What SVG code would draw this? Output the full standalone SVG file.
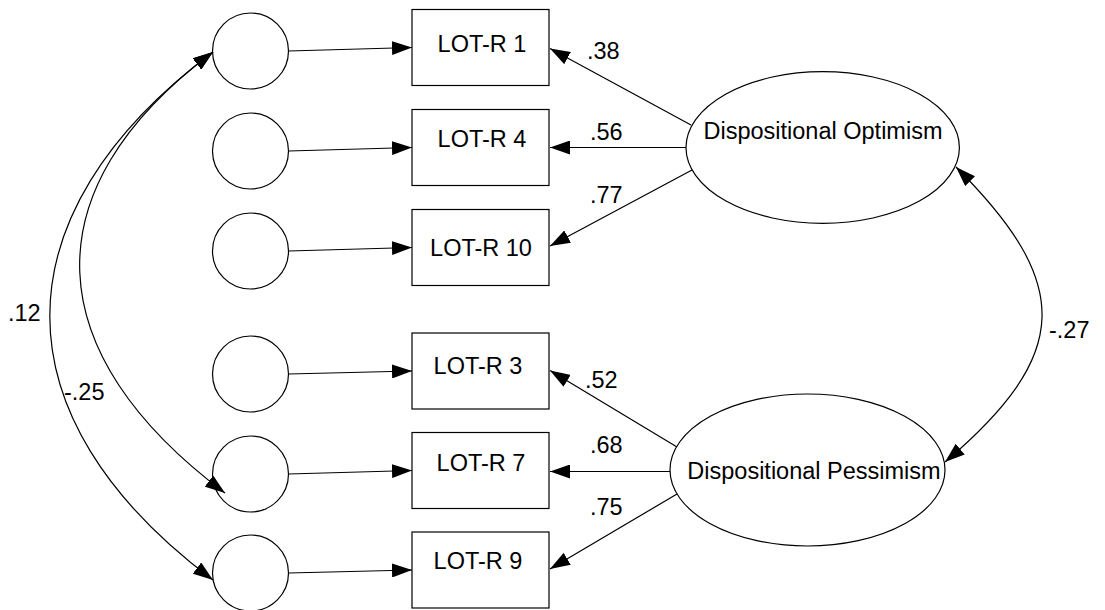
<svg xmlns="http://www.w3.org/2000/svg" width="1105" height="610" viewBox="0 0 1105 610">
  <style>
    .shape { fill: #ffffff; stroke: #000000; stroke-width: 1.2; }
    .edge { fill: none; stroke: #000000; stroke-width: 1.2; marker-end: url(#head); }
    .both { marker-start: url(#head); }
    .lbl { font-family: "Liberation Sans", Arial, sans-serif; font-size: 23.5px; fill: #000000; }
    .mid { text-anchor: middle; }
  </style>
  <defs>
    <marker id="head" viewBox="0 0 20 14" refX="20" refY="7" markerWidth="20" markerHeight="14" markerUnits="userSpaceOnUse" orient="auto-start-reverse">
      <path d="M0,0 L20,7 L0,14 z" fill="#000000"/>
    </marker>
  </defs>

  <!-- error terms -->
  <g id="e1"><circle class="shape" cx="250.5" cy="51" r="38"/></g>
  <g id="e4"><circle class="shape" cx="250.5" cy="151" r="38"/></g>
  <g id="e10"><circle class="shape" cx="250.5" cy="251" r="38"/></g>
  <g id="e3"><circle class="shape" cx="250.5" cy="374" r="38"/></g>
  <g id="e7"><circle class="shape" cx="250.5" cy="474" r="38"/></g>
  <g id="e9"><circle class="shape" cx="250.5" cy="573" r="38"/></g>

  <!-- observed items -->
  <g id="lotr1"><rect class="shape" x="412" y="9.5" width="137" height="76"/><text class="lbl mid" x="482" y="52">LOT-R 1</text></g>
  <g id="lotr4"><rect class="shape" x="412" y="109.5" width="137" height="76"/><text class="lbl mid" x="482" y="147">LOT-R 4</text></g>
  <g id="lotr10"><rect class="shape" x="412" y="209.5" width="137" height="76"/><text class="lbl mid" x="481" y="256">LOT-R 10</text></g>
  <g id="lotr3"><rect class="shape" x="412" y="333" width="137" height="76"/><text class="lbl mid" x="478" y="373.5">LOT-R 3</text></g>
  <g id="lotr7"><rect class="shape" x="412" y="432.5" width="137" height="76"/><text class="lbl mid" x="481" y="471">LOT-R 7</text></g>
  <g id="lotr9"><rect class="shape" x="412" y="532" width="137" height="76"/><text class="lbl mid" x="478" y="568.5">LOT-R 9</text></g>

  <!-- latent factors -->
  <g id="optimism"><ellipse class="shape" cx="822.7" cy="147.5" rx="136.7" ry="75.8"/><text class="lbl mid" x="823" y="139">Dispositional Optimism</text></g>
  <g id="pessimism"><ellipse class="shape" cx="807.5" cy="470" rx="137.5" ry="76"/><text class="lbl mid" x="814" y="479">Dispositional Pessimism</text></g>

  <!-- paths -->
  <g id="connectors">
    <line class="edge" x1="288.5" y1="51" x2="412" y2="47.5"/>
    <line class="edge" x1="288.5" y1="151" x2="412" y2="147.5"/>
    <line class="edge" x1="288.5" y1="251" x2="412" y2="247.5"/>
    <line class="edge" x1="288.5" y1="374" x2="412" y2="371"/>
    <line class="edge" x1="288.5" y1="474" x2="412" y2="470.5"/>
    <line class="edge" x1="288.5" y1="573" x2="412" y2="570"/>

    <line class="edge" x1="691" y1="125" x2="550" y2="48.5"/>
    <line class="edge" x1="686" y1="147.5" x2="550" y2="147.5"/>
    <line class="edge" x1="692" y1="170" x2="550" y2="246"/>
    <line class="edge" x1="677" y1="447" x2="550" y2="370.5"/>
    <line class="edge" x1="670" y1="471.5" x2="550" y2="471.5"/>
    <line class="edge" x1="677" y1="494" x2="550" y2="569"/>

    <path class="edge both" d="M213,52 C-4.6,215 -4.6,417 213,580"/>
    <path class="edge both" d="M213,52 C27.4,191 39.4,354 225,493"/>
    <path class="edge both" d="M956,167 C1073,284 1072,354 945,462"/>

    <text class="lbl" x="587" y="59">.38</text>
    <text class="lbl" x="590" y="140">.56</text>
    <text class="lbl" x="590" y="203">.77</text>
    <text class="lbl" x="585" y="388">.52</text>
    <text class="lbl" x="590" y="453">.68</text>
    <text class="lbl" x="590" y="515">.75</text>
    <text class="lbl" x="8" y="321">.12</text>
    <text class="lbl" x="64" y="400">-.25</text>
    <text class="lbl" x="1049" y="338">-.27</text>
  </g>
</svg>
